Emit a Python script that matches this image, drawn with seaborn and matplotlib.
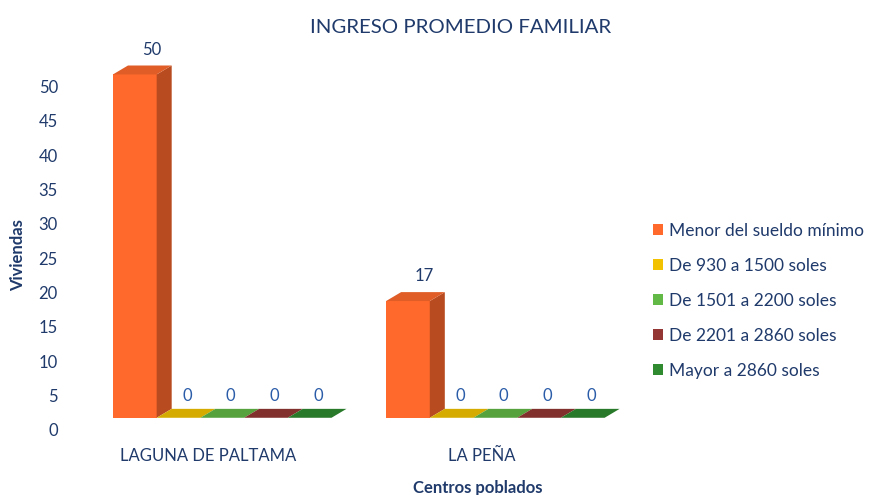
import pandas as pd
import numpy as np
import matplotlib.pyplot as plt
import matplotlib.colors as mcolors
import matplotlib.transforms as mtransforms
from matplotlib.patches import Polygon
import seaborn as sns

# --- data ---
centros = ["LAGUNA DE PALTAMA", "LA PEÑA"]
rangos = [
    "Menor del sueldo mínimo",
    "De 930 a 1500 soles",
    "De 1501 a 2200 soles",
    "De 2201 a 2860 soles",
    "Mayor a 2860 soles",
]
viviendas_laguna = [50, 0, 0, 0, 0]
viviendas_pena = [17, 0, 0, 0, 0]
colores = ["#FF6A2C", "#F2C200", "#62B946", "#943634", "#2F8A30"]

TEXT = "#1F3A6B"

df = pd.DataFrame({
    "centro": np.repeat(centros, len(rangos)),
    "rango": rangos * len(centros),
    "viviendas": viviendas_laguna + viviendas_pena,
})

sns.set_theme(style="white")
plt.rcParams["font.family"] = ["Lato", "DejaVu Sans"]

fig = plt.figure(figsize=(8.74, 4.95), dpi=100)
ax = fig.add_axes([0.098, 0.156, 0.625, 0.763])

sns.barplot(data=df, x="centro", y="viviendas", hue="rango",
            hue_order=rangos, palette=colores, width=0.8,
            saturation=1, ax=ax, edgecolor="none")

# fake 3D depth built from the bars seaborn drew
dx, dy = 0.055, 1.3
for cont, col in zip(ax.containers, colores):
    side = tuple(c * 0.72 for c in mcolors.to_rgb(col))
    top = tuple(c * 0.88 for c in mcolors.to_rgb(col))
    for p in cont.patches:
        x0, w, h = p.get_x(), p.get_width(), p.get_height()
        ax.add_patch(Polygon([(x0 + w, 0), (x0 + w + dx, dy), (x0 + w + dx, h + dy), (x0 + w, h)],
                             closed=True, facecolor=side, edgecolor="none", zorder=p.get_zorder()))
        ax.add_patch(Polygon([(x0, h), (x0 + dx, h + dy), (x0 + w + dx, h + dy), (x0 + w, h)],
                             closed=True, facecolor=top, edgecolor="none", zorder=p.get_zorder()))

# value labels, nudged right to sit over the 3D top faces
for i, cont in enumerate(ax.containers):
    labels = ax.bar_label(cont, padding=10 if i > 0 else 12,
                          color=TEXT if i == 0 else "#2A5CA8", fontsize=12)
    nudge = 12 if i == 0 else 6
    for t in labels:
        t.xyann = (t.xyann[0] + nudge, t.xyann[1])

ax.set_ylim(0, 55)
ax.set_xlim(-0.5, 1.5)
ax.set_yticks(range(0, 51, 5))
ax.tick_params(axis="both", length=0, labelsize=12, labelcolor=TEXT)
ax.tick_params(axis="y", pad=20)
ax.tick_params(axis="x", pad=22)
ax.set_xticks([-0.05, 0.95])
ax.set_xticklabels(centros)
# y tick labels sit on the back wall, a little below the front faces
down = mtransforms.ScaledTranslation(0, -0.12, fig.dpi_scale_trans)
for t in ax.get_yticklabels():
    t.set_transform(t.get_transform() + down)
sns.despine(ax=ax, left=True, bottom=True)

ax.set_xlabel("Centros poblados", fontsize=12, fontweight="bold", color=TEXT)
ax.xaxis.set_label_coords(0.717, -0.165)
ax.set_ylabel("Viviendas", fontsize=12, fontweight="bold", color=TEXT)
ax.yaxis.set_label_coords(-0.109, 0.43)
fig.text(0.527, 0.944, "INGRESO PROMEDIO FAMILIAR", ha="center", va="center",
         fontsize=14.7, color=TEXT)

sns.move_legend(ax, "center left", bbox_to_anchor=(1.01, 0.31), frameon=False,
                title=None, fontsize=12.5, labelspacing=1.1, handlelength=0.6,
                handleheight=0.6, handletextpad=0.3)
for t in ax.get_legend().get_texts():
    t.set_color(TEXT)

fig.savefig("out.png", dpi=100)
